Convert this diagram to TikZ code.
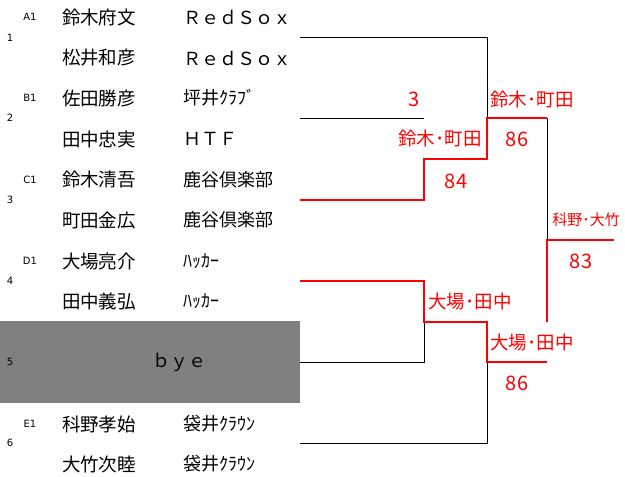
\documentclass[tikz,border=0pt]{standalone}
\usepackage{fontspec}
\setmainfont{Noto Sans CJK JP}
\newfontfamily\latf{DejaVu Sans}
\definecolor{byegray}{HTML}{808080}
\definecolor{winred}{HTML}{FF0000}
\begin{document}
\begin{tikzpicture}[x=1pt,y=-1pt,
  every node/.style={inner sep=0pt,outer sep=0pt},
  seed/.style={font=\latf\fontsize{10}{11}\selectfont},
  pname/.style={anchor=west,font=\fontsize{18.5}{19}\selectfont},
  team/.style={anchor=west,font=\fontsize{18}{19}\selectfont},
  rlabel/.style={text=winred,font=\fontsize{18.5}{19}\selectfont},
  slabel/.style={text=winred,font=\fontsize{15}{16}\selectfont},
  score/.style={text=winred,font=\fontsize{20}{21}\selectfont},
  lose/.style={draw=black,line width=1pt},
  win/.style={draw=winred,line width=2pt}]
\useasboundingbox (0,0) rectangle (625,477);
\fill[byegray] (0,321) rectangle (300,403);

% seed labels
\node[seed] (a1) at (30,17) {A1};
\node[seed] (b1) at (30,98) {B1};
\node[seed] (c1) at (30,180) {C1};
\node[seed] (d1) at (30,261) {D1};
\node[seed] (e1) at (30,424) {E1};
\node[seed] (n1) at (10,37.5) {1};
\node[seed] (n2) at (10,118) {2};
\node[seed] (n3) at (10,200) {3};
\node[seed] (n4) at (10,281) {4};
\node[seed] (n5) at (10,362) {5};
\node[seed] (n6) at (10,443) {6};

% players
\node[pname] (p1) at (62,17) {鈴木府文};
\node[pname] (p2) at (62,58) {松井和彦};
\node[pname] (p3) at (62,98) {佐田勝彦};
\node[pname] (p4) at (62,139) {田中忠実};
\node[pname] (p5) at (62,180) {鈴木清吾};
\node[pname] (p6) at (62,220) {町田金広};
\node[pname] (p7) at (62,261) {大場亮介};
\node[pname] (p8) at (62,301) {田中義弘};
\node[pname] (p9) at (62,424) {科野孝始};
\node[pname] (p10) at (62,464) {大竹次睦};

% teams
\node[team] (t1) at (183,17) {ＲｅｄＳｏｘ};
\node[team] (t2) at (183,58) {ＲｅｄＳｏｘ};
\node[team] (t3) at (183,98) {坪井ｸﾗﾌﾞ};
\node[team] (t4) at (183,139) {ＨＴＦ};
\node[team] (t5) at (183,180) {鹿谷倶楽部};
\node[team] (t6) at (183,220) {鹿谷倶楽部};
\node[team] (t7) at (183,261) {ﾊｯｶｰ};
\node[team] (t8) at (183,301) {ﾊｯｶｰ};
\node[font=\fontsize{18}{19}\selectfont] (bye) at (179,362) {ｂｙｅ};
\node[team] (t9) at (183,424) {袋井ｸﾗｳﾝ};
\node[team] (t10) at (183,464) {袋井ｸﾗｳﾝ};

% bracket coordinates
\coordinate (m1) at (300,37);
\coordinate (m2) at (300,118);
\coordinate (m3) at (300,200);
\coordinate (m4) at (300,281);
\coordinate (m5) at (300,362);
\coordinate (m6) at (300,443);
\coordinate (q1a) at (487,37);
\coordinate (q1b) at (487,118);
\coordinate (q2) at (424,118);
\coordinate (q3a) at (424,200);
\coordinate (q3b) at (424,159);
\coordinate (q3c) at (487,159);
\coordinate (s1) at (547,118);
\coordinate (s1b) at (547,240);
\coordinate (fb) at (547,322);
\coordinate (fe) at (614,240);
\coordinate (q4a) at (424,281);
\coordinate (q4b) at (424,322);
\coordinate (q4c) at (487,322);
\coordinate (q4d) at (487,362);
\coordinate (s2) at (547,362);
\coordinate (q5) at (424,362);
\coordinate (q6) at (487,443);

% losing lines
\draw[lose] (m1) -- (q1a) -- (q1b);
\draw[lose] (m2) -- (q2);
\draw[lose] (s1) -- (s1b);
\draw[lose] (m5) -- (q5) -- (q4b);
\draw[lose] (m6) -- (q6) -- (q4d);

% winning lines
\draw[win] (m3) -- (q3a) -- (q3b) -- (q3c) -- (q1b) -- (s1);
\draw[win] (m4) -- (q4a) -- (q4b) -- (q4c) -- (q4d) -- (s2);
\draw[win] (fb) -- (s1b) -- (fe);

% result labels
\node[score] (r3) at (414,99) {3};
\node[rlabel] (w1) at (440,138) {鈴木･町田};
\node[score] (r84) at (456,181) {84};
\node[rlabel] (w2) at (532,99) {鈴木･町田};
\node[score] (r86a) at (517,139) {86};
\node[slabel] (w3) at (586,220) {科野･大竹};
\node[score] (r83) at (581,261) {83};
\node[rlabel] (w4) at (470,302) {大場･田中};
\node[rlabel] (w5) at (532,343) {大場･田中};
\node[score] (r86b) at (517,383) {86};
\end{tikzpicture}
\end{document}
